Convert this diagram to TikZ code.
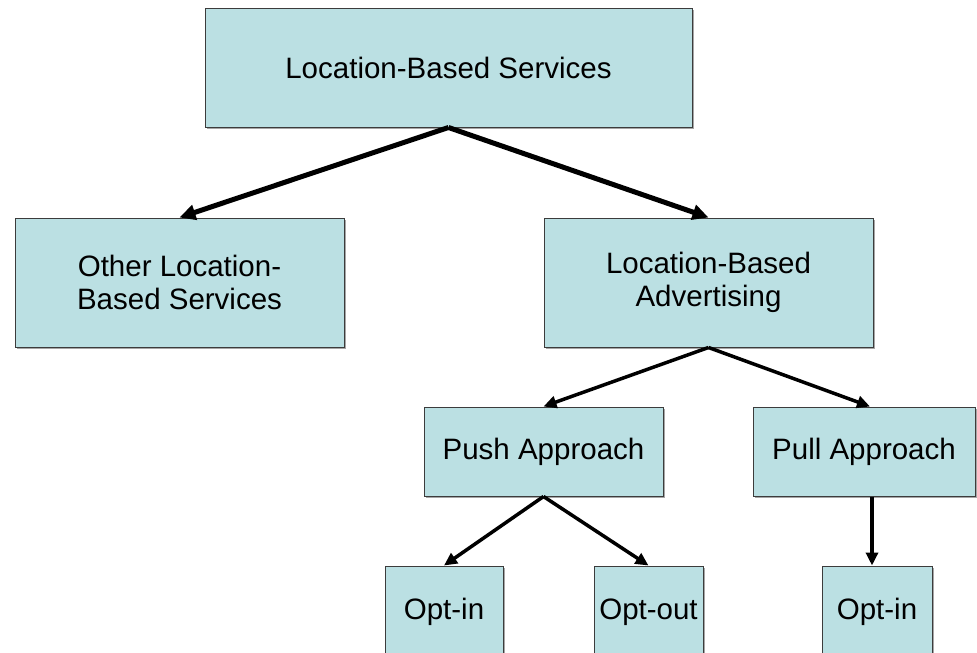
\documentclass[tikz,border=0pt]{standalone}
\usepackage{fontspec}
\setmainfont{Liberation Sans}
\usetikzlibrary{arrows.meta,shadows}
\definecolor{boxfill}{HTML}{BBE0E3}
\definecolor{boxline}{HTML}{3C3C3C}

\tikzset{
	box/.style={rectangle,
		draw = boxline,
		line width = 1pt,
		fill = boxfill,
		text = black,
		align = center,
		inner sep = 0pt,
		drop shadow = {shadow xshift=1.5pt, shadow yshift=-1.5pt, fill=gray!70, opacity=1},
		font = \fontsize{29.5}{32.5}\selectfont},
	bigarrow/.style={line width = 5pt, -{Triangle[length=16pt, width=15pt]}},
	smallarrow/.style={line width = 3.5pt, -{Triangle[length=13pt, width=12pt]}}
}

\begin{document}
\begin{tikzpicture}[x=1pt, y=-1pt]
	
	\useasboundingbox (0,0) rectangle (977,653);
	
	\node[box, minimum width = 487pt, minimum height = 119pt] (lbs) at (448.5,67.5) {Location-Based Services};
	
	\node[box, minimum width = 329pt, minimum height = 129pt] (other) at (179.5,282.5) {Other Location-\\Based Services};
	\node[box, minimum width = 329pt, minimum height = 129pt] (lba) at (708.5,282.5) {Location-Based\\Advertising};
	
	\node[box, minimum width = 239pt, minimum height = 89pt] (push) at (543.5,451.5) {Push Approach};
	\node[box, minimum width = 222pt, minimum height = 89pt] (pull) at (864,451.5) {Pull Approach};
	
	\node[box, minimum width = 118pt, minimum height = 92pt] (pushin) at (444,612) {Opt-in};
	\node[box, minimum width = 109pt, minimum height = 92pt] (pushout) at (648.5,612) {Opt-out};
	\node[box, minimum width = 110pt, minimum height = 92pt] (pullin) at (877,612) {Opt-in};
	
	
	\draw[bigarrow] (lbs.south) to (other.north);
	\draw[bigarrow] (lbs.south) to (lba.north);
	
	\draw[smallarrow] (lba.south) to (push.north);
	\draw[smallarrow] (lba.south) to ([xshift=6pt]pull.north);
	
	\draw[smallarrow] (push.south) to (pushin.north);
	\draw[smallarrow] (push.south) to (pushout.north);
	\draw[smallarrow] ([xshift=8pt]pull.south) to ([xshift=-5pt]pullin.north);
	
\end{tikzpicture}
\end{document}
